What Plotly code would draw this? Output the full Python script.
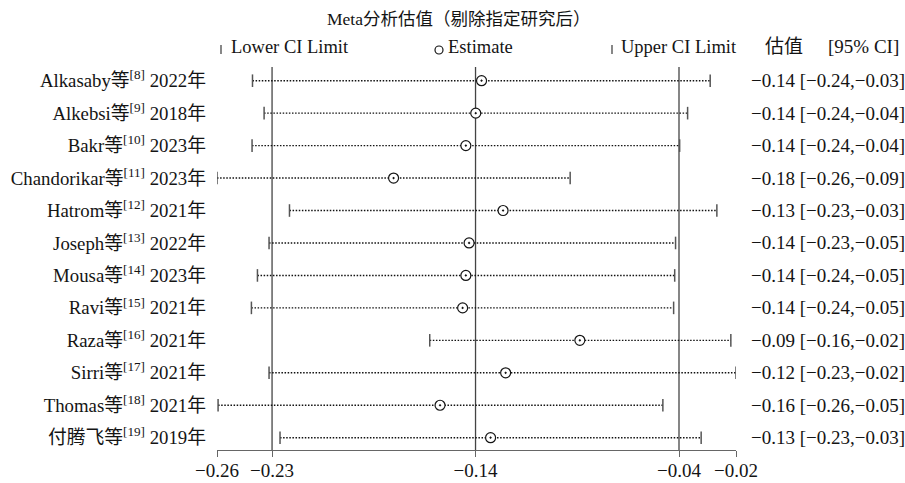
import plotly.graph_objects as go

# Leave-one-out sensitivity analysis: pooled estimate after omitting each study
studies = [
    "Alkasaby等<sup>[8]</sup> 2022年",
    "Alkebsi等<sup>[9]</sup> 2018年",
    "Bakr等<sup>[10]</sup> 2023年",
    "Chandorikar等<sup>[11]</sup> 2023年",
    "Hatrom等<sup>[12]</sup> 2021年",
    "Joseph等<sup>[13]</sup> 2022年",
    "Mousa等<sup>[14]</sup> 2023年",
    "Ravi等<sup>[15]</sup> 2021年",
    "Raza等<sup>[16]</sup> 2021年",
    "Sirri等<sup>[17]</sup> 2021年",
    "Thomas等<sup>[18]</sup> 2021年",
    "付腾飞等<sup>[19]</sup> 2019年",
]
estimates = [-0.1360, -0.1387, -0.1433, -0.1769, -0.1260, -0.1418,
             -0.1433, -0.1448, -0.0903, -0.1248, -0.1553, -0.1318]
lower_ci = [-0.2425, -0.2371, -0.2427, -0.2590, -0.2253, -0.2348,
            -0.2402, -0.2430, -0.1601, -0.2348, -0.2585, -0.2297]
upper_ci = [-0.0297, -0.0402, -0.0439, -0.0948, -0.0266, -0.0458,
            -0.0462, -0.0467, -0.0201, -0.0177, -0.0517, -0.0339]

# Pooled estimate with all studies included
overall_est = -0.1388
overall_lower = -0.2334
overall_upper = -0.0442

FONT = '"Liberation Serif", "Noto Sans CJK SC", serif'
INK = "#141414"
GREY = "#555555"


def fmt(v):
    return f"{v:.2f}".replace("-", "\u2212")


rows = list(range(1, len(studies) + 1))

# canvas geometry (pixels)
W, H = 905, 483
ML, MR, MT, MB = 217, 169, 67, 33
PW, PH = W - ML - MR, H - MT - MB


def px(x):
    return (x - ML) / PW


def py(y):
    return (H - MB - y) / PH


fig = go.Figure()

# dotted confidence-interval segments
seg_x, seg_y = [], []
for lo, hi, r in zip(lower_ci, upper_ci, rows):
    seg_x += [lo, hi, None]
    seg_y += [r, r, None]
fig.add_trace(go.Scatter(
    x=seg_x, y=seg_y, mode="lines", showlegend=False, hoverinfo="skip",
    line=dict(color="#111111", width=1.4, dash="1.5px,1.6px"),
))

# CI end caps
for vals in (lower_ci, upper_ci):
    fig.add_trace(go.Scatter(
        x=vals, y=rows, mode="markers", showlegend=False,
        marker=dict(symbol="line-ns", size=9,
                    line=dict(color=GREY, width=1.5)),
    ))

# leave-one-out estimates
fig.add_trace(go.Scatter(
    x=estimates, y=rows, mode="markers", showlegend=False,
    marker=dict(symbol="circle-dot", size=10, color="white",
                line=dict(color=INK, width=1.2)),
))

# reference lines at the pooled estimate and its CI
for v in (overall_lower, overall_est, overall_upper):
    fig.add_shape(type="line", xref="x", yref="paper", x0=v, x1=v, y0=0, y1=1,
                  line=dict(color="#444444", width=1.3), layer="below")

tick_vals = [min(lower_ci), overall_lower, overall_est, overall_upper, max(upper_ci)]

annotations = []
# estimate and CI text column
for e, lo, hi, r in zip(estimates, lower_ci, upper_ci, rows):
    annotations.append(dict(
        x=px(749), xref="paper", y=r, yref="y", xanchor="left", yanchor="middle",
        text=f"{fmt(e)} [{fmt(lo)},{fmt(hi)}]", showarrow=False,
        font=dict(family=FONT, size=19, color=INK),
    ))

# title and header row
annotations.append(dict(
    x=px(458), xref="paper", y=py(19), yref="paper", xanchor="center", yanchor="middle",
    text="Meta分析估值（剔除指定研究后）", showarrow=False,
    font=dict(family=FONT, size=17.5, color=INK),
))
header = [(229, "Lower CI Limit", 18.5), (446, "Estimate", 18.5),
          (619, "Upper CI Limit", 18.5), (763, "估值", 19), (826, "[95% CI]", 19)]
for x0, txt, sz in header:
    annotations.append(dict(
        x=px(x0), xref="paper", y=py(47), yref="paper", xanchor="left", yanchor="middle",
        text=txt, showarrow=False, font=dict(family=FONT, size=sz, color=INK),
    ))

# header key symbols
for xk in (221, 612):
    fig.add_shape(type="line", xref="paper", yref="paper",
                  x0=px(xk), x1=px(xk), y0=py(45), y1=py(54),
                  line=dict(color=GREY, width=1.4))
fig.add_shape(type="circle", xref="paper", yref="paper",
              x0=px(435), x1=px(443), y0=py(46), y1=py(54),
              line=dict(color=INK, width=1.2))

fig.update_layout(
    width=W, height=H,
    margin=dict(l=ML, r=MR, t=MT, b=MB, pad=0, autoexpand=False),
    paper_bgcolor="white", plot_bgcolor="white",
    font=dict(family=FONT, size=18, color=INK),
    showlegend=False,
    annotations=annotations,
    xaxis=dict(
        range=[min(lower_ci), max(upper_ci)],
        tickvals=tick_vals, ticktext=[fmt(v) for v in tick_vals],
        showline=True, linecolor="#666666", linewidth=1.3,
        ticks="outside", ticklen=6, tickcolor="#666666", tickwidth=1.3,
        showgrid=False, zeroline=False, automargin=False,
        ticklabelstandoff=-3,
        tickfont=dict(family=FONT, size=19, color=INK),
    ),
    yaxis=dict(
        range=[12.379, 0.578],
        tickvals=rows, ticktext=studies,
        showline=False, showgrid=False, zeroline=False, ticks="",
        ticklabelstandoff=10, automargin=False,
        tickfont=dict(family=FONT, size=18.8, color=INK),
    ),
)

fig.write_html("out.html")
